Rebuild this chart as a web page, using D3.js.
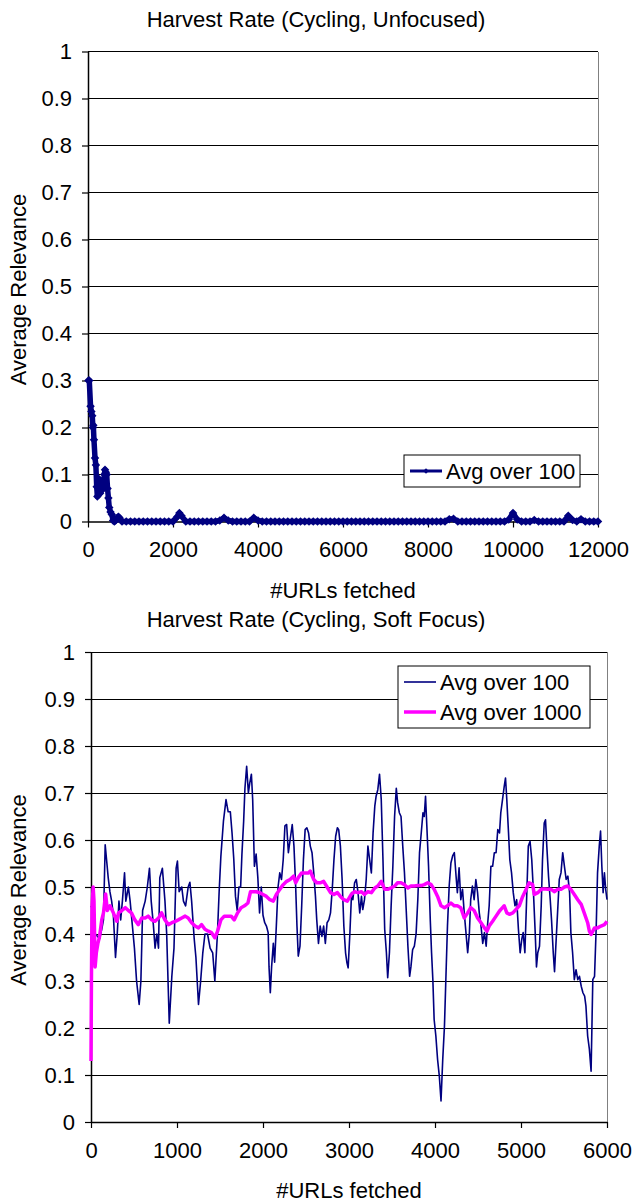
<!DOCTYPE html>
<html>
<head>
<meta charset="utf-8">
<script src="https://cdn.jsdelivr.net/npm/d3@7"></script>
<style>
  body { margin: 0; background: #fff; }
  svg text { font-family: "Liberation Sans", Arial, sans-serif; fill: #000; }
</style>
</head>
<body>
<svg id="chart" width="636" height="1203"></svg>
<script>
// ---- data ----
const relevanceTicks = [0, 0.1, 0.2, 0.3, 0.4, 0.5, 0.6, 0.7, 0.8, 0.9, 1];
const unfocusedTicks = [0, 2000, 4000, 6000, 8000, 10000, 12000];
const softTicks = [0, 1000, 2000, 3000, 4000, 5000, 6000];

// Harvest Rate (Cycling, Unfocused) - Avg over 100
const unfocusedUrls = [
  10, 30, 60, 80, 100, 115, 125, 140, 165, 185,
  205, 220, 240, 265, 285, 300, 330, 360, 385, 400,
  420, 440, 460, 480, 500, 530, 560, 590, 620, 650,
  690, 715, 740, 770, 800,
  900, 1000, 1100, 1200, 1300, 1400, 1500, 1600, 1700, 1800,
  1900, 2000, 2100, 2150, 2200, 2300, 2400, 2500, 2600, 2700, 2800,
  2900, 3000, 3100, 3200, 3300, 3400, 3500, 3600, 3700, 3800,
  3900, 4000, 4100, 4200, 4300, 4400, 4500, 4600, 4700, 4800,
  4900, 5000, 5100, 5200, 5300, 5400, 5500, 5600, 5700, 5800,
  5900, 6000, 6100, 6200, 6300, 6400, 6500, 6600, 6700, 6800,
  6900, 7000, 7100, 7200, 7300, 7400, 7500, 7600, 7700, 7800,
  7900, 8000, 8100, 8200, 8300, 8400, 8500, 8600, 8700, 8800,
  8900, 9000, 9100, 9200, 9300, 9400, 9500, 9600, 9700, 9800,
  9900, 10000, 10100, 10200, 10300, 10400, 10500, 10600, 10700, 10800,
  10900, 11000, 11100, 11200, 11300, 11400, 11500, 11600, 11700, 11800,
  11900, 12000
];
const unfocusedAvg100 = [
  0.30, 0.30, 0.245, 0.234, 0.225, 0.20, 0.205, 0.174, 0.135, 0.12,
  0.074, 0.053, 0.075, 0.09, 0.06, 0.065, 0.075, 0.07, 0.10, 0.11,
  0.105, 0.10, 0.07, 0.05, 0.03, 0.02, 0.015, 0.002, 0, 0.002,
  0.008, 0.01, 0.008, 0.003, 0,
  0, 0, 0, 0, 0, 0, 0, 0, 0, 0,
  0, 0, 0.01, 0.018, 0.012, 0, 0, 0, 0, 0, 0,
  0, 0, 0.002, 0.008, 0.002, 0, 0, 0, 0, 0,
  0.008, 0.002, 0, 0, 0, 0, 0, 0, 0, 0,
  0, 0, 0, 0, 0, 0, 0, 0, 0, 0,
  0, 0, 0, 0, 0, 0, 0, 0, 0, 0,
  0, 0, 0, 0, 0, 0, 0, 0, 0, 0,
  0, 0, 0, 0, 0, 0, 0.005, 0.006, 0, 0,
  0, 0, 0, 0, 0, 0, 0, 0, 0, 0,
  0.004, 0.018, 0.004, 0, 0, 0, 0.003, 0, 0, 0,
  0, 0, 0, 0, 0.012, 0.003, 0, 0.005, 0, 0,
  0, 0
];

// Harvest Rate (Cycling, Soft Focus) - Avg over 100
const softUrls100 = [
  0, 25, 50, 100, 125, 145, 165, 180, 200, 220,
  240, 260, 285, 305, 325, 345, 365, 390, 405, 435,
  455, 480, 505, 530, 560, 580, 600, 630, 655, 680,
  700, 725, 745, 765, 785, 800, 830, 860, 880, 910,
  940, 965, 990, 1005, 1025, 1055, 1075, 1100, 1130, 1150,
  1170, 1200, 1220, 1250, 1275, 1300, 1325, 1355, 1385, 1415,
  1440, 1455, 1470, 1490, 1510, 1540, 1570, 1595, 1620, 1640,
  1660, 1680, 1700, 1720, 1740, 1755, 1775, 1790, 1810, 1830,
  1845, 1865, 1880, 1900, 1920, 1940, 1960, 1980, 2000, 2020,
  2040, 2060, 2070, 2085, 2100, 2120, 2135, 2155, 2175, 2195,
  2215, 2235, 2255, 2275, 2295, 2315, 2340, 2360, 2380, 2395,
  2410, 2430, 2450, 2470, 2490, 2510, 2530, 2550, 2570, 2590,
  2610, 2625, 2645, 2665, 2685, 2705, 2725, 2745, 2765, 2785,
  2805, 2825, 2845, 2865, 2880, 2900, 2920, 2940, 2960, 2975,
  2990, 3010, 3030, 3045, 3065, 3085, 3105, 3125, 3145, 3160,
  3180, 3200, 3220, 3240, 3260, 3280, 3300, 3315, 3335, 3355,
  3375, 3395, 3415, 3435, 3450, 3470, 3490, 3510, 3530, 3550,
  3565, 3585, 3605, 3625, 3645, 3665, 3685, 3705, 3720, 3740,
  3760, 3780, 3800, 3820, 3840, 3860, 3875, 3890, 3905, 3925,
  3945, 3960, 3975, 3990, 4010, 4030, 4050, 4070, 4090, 4110,
  4125, 4145, 4165, 4185, 4205, 4225, 4245, 4260, 4280, 4300,
  4320, 4340, 4360, 4380, 4400, 4415, 4435, 4455, 4475, 4495,
  4515, 4535, 4555, 4575, 4595, 4610, 4630, 4650, 4670, 4690,
  4710, 4730, 4750, 4765, 4785, 4805, 4820, 4835, 4855, 4870,
  4890, 4910, 4930, 4950, 4970, 4990, 5010, 5025, 5045, 5065,
  5085, 5105, 5125, 5145, 5165, 5180, 5195, 5215, 5235, 5250,
  5270, 5285, 5300, 5320, 5340, 5355, 5375, 5390, 5405, 5425,
  5445, 5465, 5485, 5505, 5525, 5545, 5565, 5580, 5600, 5620,
  5640, 5660, 5680, 5700, 5720, 5740, 5755, 5775, 5795, 5815,
  5835, 5855, 5875, 5890, 5910, 5925, 5940, 5955, 5970, 5985,
  6000
];
const softAvg100 = [
  0.46, 0.45, 0.40, 0.39, 0.41, 0.43, 0.59, 0.56, 0.52, 0.49,
  0.47, 0.44, 0.35, 0.40, 0.47, 0.43, 0.47, 0.53, 0.47, 0.50,
  0.47, 0.42, 0.37, 0.30, 0.25, 0.30, 0.45, 0.47, 0.50, 0.54,
  0.47, 0.42, 0.37, 0.40, 0.37, 0.52, 0.54, 0.47, 0.40, 0.21,
  0.31, 0.37, 0.54, 0.555, 0.49, 0.50, 0.47, 0.46, 0.50, 0.51,
  0.47, 0.39, 0.35, 0.25, 0.30, 0.36, 0.40, 0.40, 0.37, 0.36,
  0.30, 0.35, 0.40, 0.49, 0.565, 0.64, 0.686, 0.66, 0.66, 0.615,
  0.56, 0.48, 0.45, 0.50, 0.50, 0.57, 0.64, 0.71, 0.757, 0.70,
  0.72, 0.74, 0.686, 0.544, 0.57, 0.52, 0.445, 0.50, 0.44, 0.424,
  0.417, 0.403, 0.33, 0.275, 0.33, 0.38, 0.34, 0.417, 0.50, 0.53,
  0.516, 0.558, 0.63, 0.633, 0.573, 0.60, 0.633, 0.587, 0.50, 0.417,
  0.353, 0.374, 0.46, 0.558, 0.622, 0.626, 0.615, 0.587, 0.573, 0.53,
  0.48, 0.43, 0.38, 0.417, 0.395, 0.417, 0.38, 0.424, 0.43, 0.445,
  0.495, 0.558, 0.608, 0.626, 0.622, 0.587, 0.516, 0.417, 0.36, 0.34,
  0.328, 0.40, 0.488, 0.473, 0.509, 0.516, 0.488, 0.445, 0.48, 0.452,
  0.473, 0.516, 0.587, 0.558, 0.53, 0.615, 0.672, 0.693, 0.707, 0.74,
  0.686, 0.558, 0.41, 0.36, 0.307, 0.36, 0.46, 0.544, 0.65, 0.71,
  0.68, 0.658, 0.65, 0.587, 0.53, 0.452, 0.374, 0.31, 0.33, 0.367,
  0.374, 0.40, 0.473, 0.573, 0.615, 0.658, 0.65, 0.693, 0.63, 0.544,
  0.43, 0.36, 0.303, 0.218, 0.183, 0.133, 0.098, 0.045, 0.133, 0.204,
  0.296, 0.417, 0.502, 0.551, 0.566, 0.573, 0.523, 0.488, 0.541, 0.473,
  0.495, 0.445, 0.403, 0.36, 0.403, 0.473, 0.502, 0.473, 0.516, 0.488,
  0.445, 0.417, 0.38, 0.403, 0.374, 0.417, 0.46, 0.544, 0.544, 0.573,
  0.573, 0.622, 0.615, 0.658, 0.686, 0.714, 0.732, 0.686, 0.615, 0.558,
  0.53, 0.488, 0.46, 0.473, 0.41, 0.36, 0.39, 0.403, 0.36, 0.473,
  0.587, 0.597, 0.558, 0.488, 0.403, 0.33, 0.36, 0.374, 0.46, 0.558,
  0.636, 0.643, 0.587, 0.523, 0.473, 0.43, 0.36, 0.32, 0.374, 0.445,
  0.516, 0.53, 0.573, 0.544, 0.516, 0.523, 0.488, 0.403, 0.36, 0.303,
  0.324, 0.303, 0.31, 0.289, 0.275, 0.268, 0.247, 0.183, 0.155, 0.108,
  0.303, 0.31, 0.417, 0.53, 0.587, 0.619, 0.544, 0.488, 0.53, 0.495,
  0.473
];

// Harvest Rate (Cycling, Soft Focus) - Avg over 1000
const softUrls1000 = [
  0, 5, 12, 25, 35, 48, 62, 80, 100, 125, 145, 170,
  190, 220, 260, 300, 320, 360, 400, 435, 470, 510,
  550, 590, 630, 665, 705, 745, 785, 820, 860, 900,
  940, 980, 1015, 1055, 1095, 1130, 1170, 1210, 1250, 1285,
  1325, 1365, 1400, 1440, 1470, 1510, 1550, 1590, 1630, 1665,
  1705, 1745, 1785, 1825, 1855, 1880, 1920, 1960, 2000, 2040,
  2080, 2120, 2155, 2195, 2235, 2275, 2315, 2355, 2380, 2410,
  2450, 2490, 2530, 2550, 2590, 2625, 2665, 2705, 2745, 2785,
  2825, 2865, 2900, 2940, 2980, 3025, 3065, 3105, 3145, 3180,
  3220, 3260, 3300, 3335, 3375, 3415, 3450, 3490, 3530, 3565,
  3605, 3645, 3685, 3720, 3760, 3800, 3840, 3875, 3915, 3955,
  3990, 4030, 4070, 4110, 4145, 4185, 4225, 4260, 4300, 4340,
  4380, 4415, 4455, 4495, 4535, 4575, 4605, 4630, 4670, 4710,
  4750, 4785, 4805, 4835, 4865, 4905, 4940, 4980, 5020, 5060,
  5095, 5135, 5155, 5195, 5235, 5270, 5310, 5350, 5390, 5425,
  5465, 5505, 5545, 5580, 5620, 5660, 5700, 5735, 5775, 5795,
  5815, 5855, 5890, 5930, 5970, 6000
];
const softAvg1000 = [
  0.13, 0.30, 0.46, 0.50, 0.47, 0.33, 0.36, 0.38, 0.395, 0.43, 0.445, 0.485,
  0.45, 0.46, 0.445, 0.427, 0.445, 0.45, 0.456, 0.45, 0.445, 0.43,
  0.42, 0.434, 0.434, 0.438, 0.43, 0.427, 0.434, 0.445, 0.43, 0.42,
  0.424, 0.427, 0.43, 0.434, 0.438, 0.434, 0.424, 0.417, 0.413, 0.42,
  0.41, 0.406, 0.403, 0.392, 0.405, 0.43, 0.438, 0.438, 0.438, 0.43,
  0.445, 0.456, 0.46, 0.466, 0.49, 0.49, 0.49, 0.488, 0.484, 0.48,
  0.473, 0.47, 0.484, 0.495, 0.505, 0.512, 0.516, 0.523, 0.509, 0.52,
  0.53, 0.53, 0.53, 0.534, 0.516, 0.509, 0.509, 0.512, 0.50, 0.488,
  0.484, 0.488, 0.48, 0.473, 0.47, 0.484, 0.49, 0.488, 0.49, 0.484,
  0.49, 0.488, 0.498, 0.502, 0.512, 0.495, 0.495, 0.498, 0.502, 0.509,
  0.509, 0.505, 0.498, 0.502, 0.502, 0.503, 0.503, 0.505, 0.509, 0.505,
  0.495, 0.48, 0.46, 0.456, 0.46, 0.466, 0.46, 0.46, 0.456, 0.434,
  0.445, 0.456, 0.45, 0.434, 0.424, 0.413, 0.406, 0.417, 0.427, 0.438,
  0.449, 0.456, 0.46, 0.445, 0.442, 0.445, 0.452, 0.46, 0.48, 0.495,
  0.509, 0.505, 0.484, 0.488, 0.495, 0.496, 0.495, 0.495, 0.49, 0.495,
  0.495, 0.50, 0.502, 0.495, 0.484, 0.473, 0.463, 0.445, 0.424, 0.406,
  0.399, 0.413, 0.413, 0.417, 0.42, 0.427
];

// ---- drawing ----
const svg = d3.select("#chart");
const FONT = 22;
const navy = "#000080";
const magenta = "#FF00FF";

function drawFrame(x, y, xTicks, title, titleY) {
    const g = svg.append("g");
    const [left, right] = x.range();
    const [bottom, top] = y.range();

    // horizontal gridlines
    g.append("g").classed("grid", true)
        .selectAll("line")
        .data(relevanceTicks.filter(d => d > 0))
        .join("line")
            .attr("x1", left).attr("x2", right)
            .attr("y1", d => y(d)).attr("y2", d => y(d))
            .attr("stroke", "#000")
            .attr("stroke-width", 1)
            .attr("shape-rendering", "crispEdges");

    // right border of plot area
    g.append("line")
        .attr("x1", right).attr("x2", right)
        .attr("y1", top).attr("y2", bottom)
        .attr("stroke", "#808080")
        .attr("shape-rendering", "crispEdges");

    const yAxis = g.append("g")
        .attr("transform", `translate(${left},0)`)
        .call(d3.axisLeft(y)
            .tickValues(relevanceTicks)
            .tickSize(6).tickSizeOuter(0).tickPadding(10)
            .tickFormat(d => String(+d.toFixed(1))));

    const xAxis = g.append("g")
        .attr("transform", `translate(0,${bottom})`)
        .call(d3.axisBottom(x)
            .tickValues(xTicks)
            .tickSize(6).tickSizeOuter(0).tickPadding(14)
            .tickFormat(d => String(d)));

    for (const axis of [xAxis, yAxis]) {
        axis.select(".domain").attr("stroke", "#000").attr("stroke-width", 1.5);
        axis.selectAll(".tick line").attr("stroke", "#000").attr("stroke-width", 1.2);
        axis.selectAll("text").attr("font-size", FONT).attr("fill", "#000")
            .style("font-family", '"Liberation Sans", Arial, sans-serif');
    }

    svg.append("text")
        .attr("x", 316).attr("y", titleY)
        .attr("text-anchor", "middle")
        .attr("font-size", FONT)
        .text(title);

    svg.append("text")
        .attr("x", (left + right) / 2).attr("y", bottom + 76)
        .attr("text-anchor", "middle")
        .attr("font-size", FONT)
        .text("#URLs fetched");

    svg.append("text")
        .attr("transform", `translate(26,${(top + bottom) / 2 + 3}) rotate(-90)`)
        .attr("text-anchor", "middle")
        .attr("font-size", FONT)
        .text("Average Relevance");
}

function drawLegend(x0, y0, w, rows) {
    const rowH = 30;
    const g = svg.append("g").attr("transform", `translate(${x0},${y0})`);
    g.append("rect")
        .attr("width", w).attr("height", rows.length * rowH + 2)
        .attr("fill", "#fff").attr("stroke", "#000").attr("stroke-width", 1);
    rows.forEach((row, i) => {
        const cy = 16 + i * rowH;
        g.append("line")
            .attr("x1", 6).attr("x2", 38).attr("y1", cy).attr("y2", cy)
            .attr("stroke", row.color).attr("stroke-width", row.width);
        if (row.marker) {
            g.append("path")
                .attr("d", d3.symbol(d3.symbolSquare, 16)())
                .attr("transform", `translate(22,${cy}) rotate(45)`)
                .attr("fill", row.color);
        }
        g.append("text")
            .attr("x", 42).attr("y", cy + 8)
            .attr("font-size", FONT)
            .text(row.label);
    });
}

// top chart: unfocused
const xTop = d3.scaleLinear().domain([0, 12000]).range([88, 598]);
const yTop = d3.scaleLinear().domain([0, 1]).range([521.5, 51.5]);
drawFrame(xTop, yTop, unfocusedTicks, "Harvest Rate (Cycling, Unfocused)", 27);

const topPoints = unfocusedUrls.map((u, i) => [u, unfocusedAvg100[i]]);
const topLine = d3.line().x(d => xTop(d[0])).y(d => yTop(d[1]));
svg.append("path")
    .datum(topPoints)
    .attr("d", topLine)
    .attr("fill", "none")
    .attr("stroke", navy)
    .attr("stroke-width", 5.5)
    .attr("stroke-linejoin", "round");
svg.append("g").selectAll("path")
    .data(topPoints)
    .join("path")
        .attr("d", d3.symbol(d3.symbolSquare, 36)())
        .attr("transform", d => `translate(${xTop(d[0])},${yTop(d[1])}) rotate(45)`)
        .attr("fill", navy);

drawLegend(404, 455, 176, [
    {label: "Avg over 100", color: navy, width: 3, marker: true}
]);

// bottom chart: soft focus
const xBot = d3.scaleLinear().domain([0, 6000]).range([91, 607]);
const yBot = d3.scaleLinear().domain([0, 1]).range([1122, 652]);
drawFrame(xBot, yBot, softTicks, "Harvest Rate (Cycling, Soft Focus)", 627);

const line100 = d3.line().x((d, i) => xBot(softUrls100[i])).y(d => yBot(d));
const line1000 = d3.line().x((d, i) => xBot(softUrls1000[i])).y(d => yBot(d));

svg.append("path")
    .datum(softAvg100)
    .attr("d", line100)
    .attr("fill", "none")
    .attr("stroke", navy)
    .attr("stroke-width", 1.6)
    .attr("stroke-linejoin", "round");

svg.append("path")
    .datum(softAvg1000)
    .attr("d", line1000)
    .attr("fill", "none")
    .attr("stroke", magenta)
    .attr("stroke-width", 3.5)
    .attr("stroke-linejoin", "round");

drawLegend(398, 666, 192, [
    {label: "Avg over 100", color: navy, width: 1.6},
    {label: "Avg over 1000", color: magenta, width: 3.5}
]);
</script>
</body>
</html>
